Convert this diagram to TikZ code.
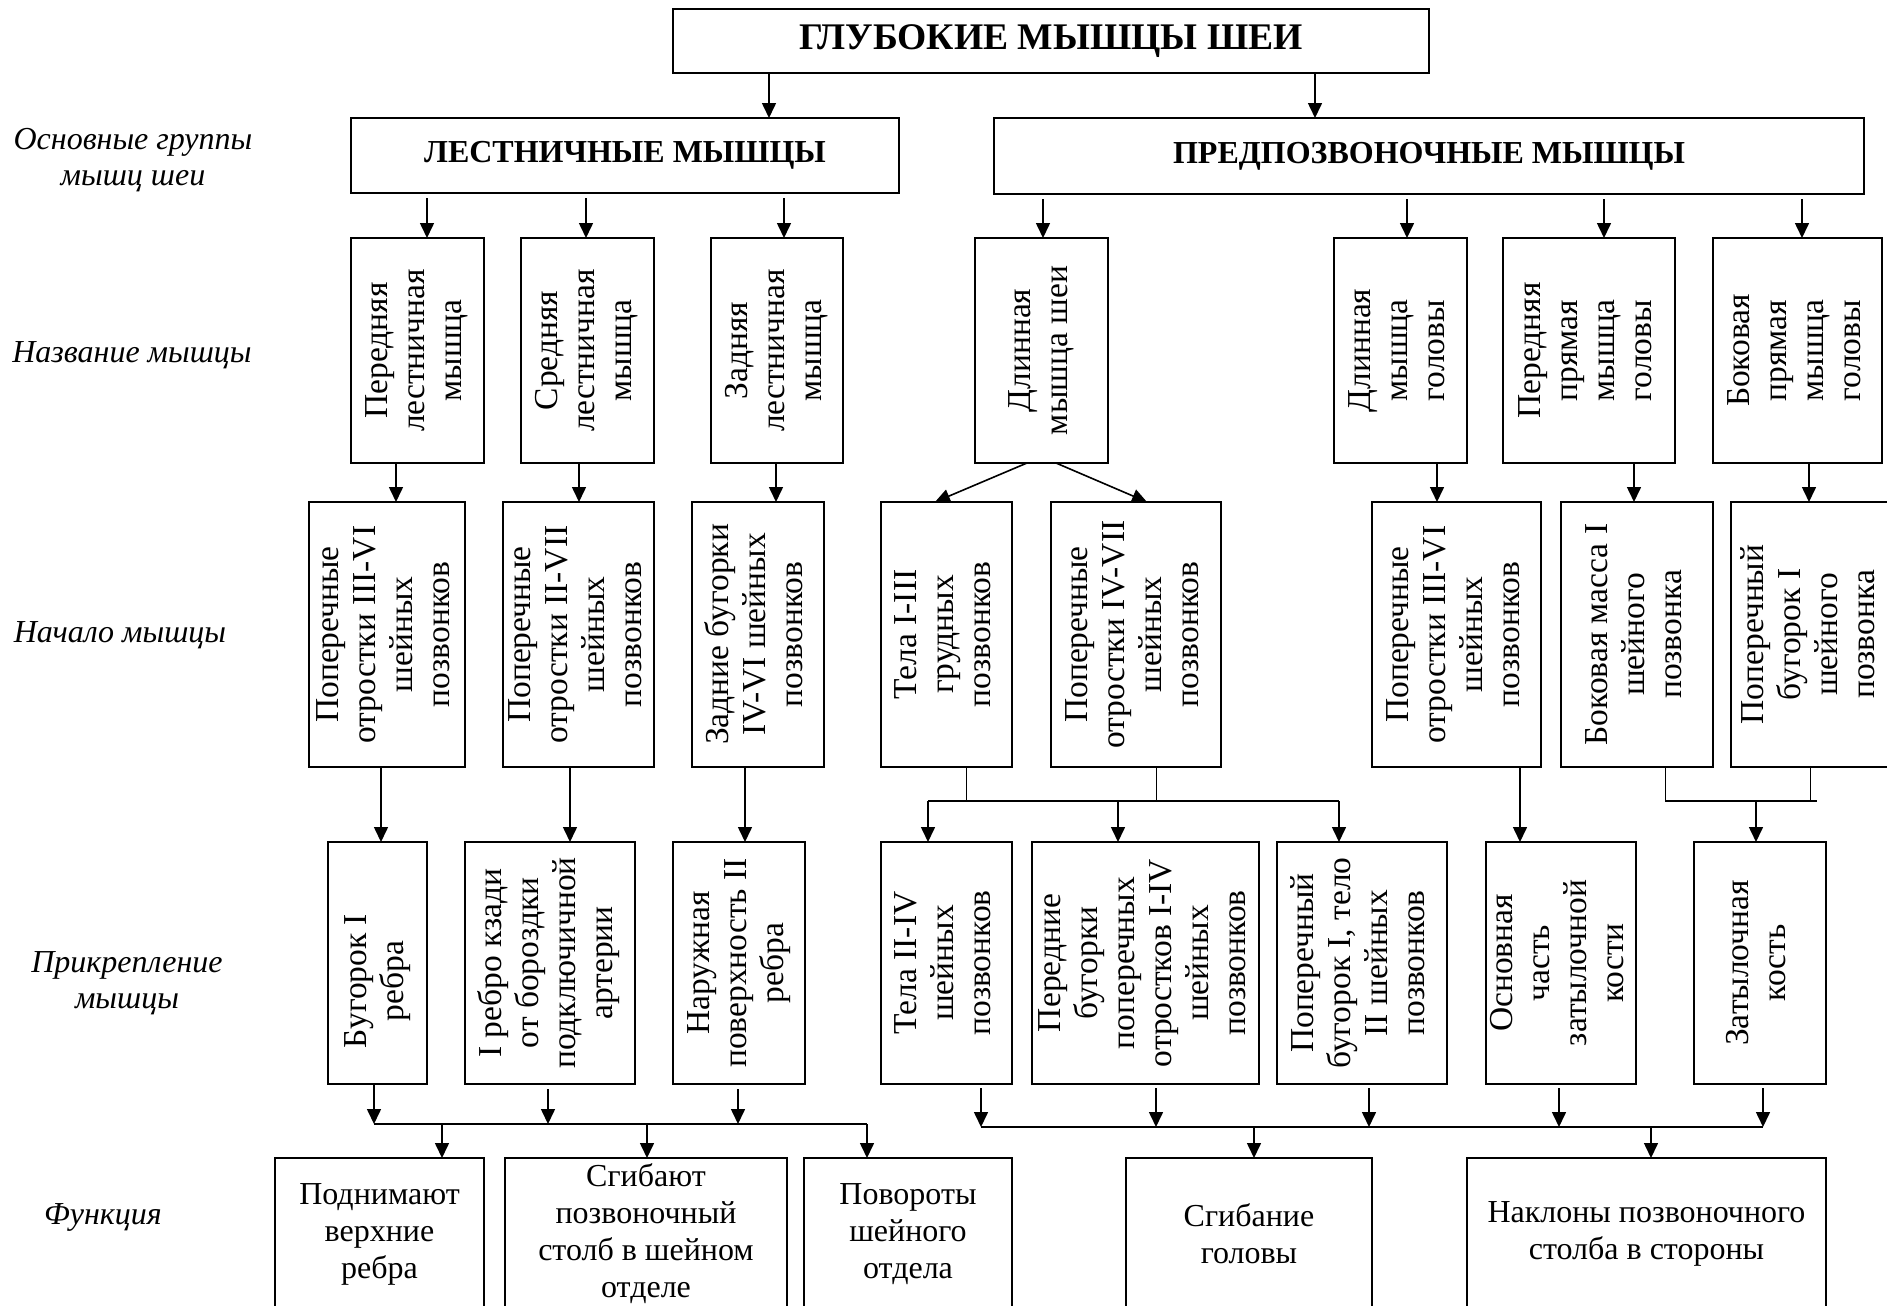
\documentclass[tikz,border=0pt]{standalone}
\usepackage{fontspec}
\setmainfont{Liberation Serif}
\usepackage{graphicx}
\usetikzlibrary{arrows.meta}

\newcommand\bodyfont{\fontsize{16.75pt}{18.5pt}\selectfont}
\newcommand\funcfont{\fontsize{16pt}{18.5pt}\selectfont}
\newcommand\titlefont{\fontsize{18.8pt}{20pt}\selectfont\bfseries}
\newcommand\groupfont{\fontsize{16pt}{18pt}\selectfont\bfseries}
\newcommand\sidefont{\fontsize{16pt}{18pt}\selectfont\itshape}
% vertical (bottom-to-top) centred text block; optional trailing gap
\newcommand\vt[2][0pt]{\rotatebox{90}{\begin{tabular}{@{}c@{\hspace{#1}}}#2\end{tabular}}}
% framed box given by its pixel corners: [style]{name}{x1}{y1}{x2}{y2}{text}
\newcommand\bx[7][]{\node[box,#1,minimum width={(#5-#3)*0.5pt},minimum height={(#6-#4)*0.5pt}] (#2) at ({(#3+#5)/2},{(#4+#6)/2}) {#7};}

\begin{document}
\begin{tikzpicture}[x=0.5pt,y=-0.5pt,
  box/.style={draw,line width=0.9pt,inner sep=0pt,outer sep=0pt,align=center,font=\bodyfont},
  func/.style={font=\funcfont},
  arr/.style={-{Triangle[length=7.5pt,width=7pt]},line width=0.8pt},
  wire/.style={line width=0.8pt},
  thinwire/.style={line width=0.5pt},
  side/.style={font=\sidefont,align=center,inner sep=0pt}]
\useasboundingbox (0,0) rectangle (1887,1306);
\clip (0,0) rectangle (1887,1306);

% row captions
\node[side] (sgroups) at (133,160) {Основные группы\\мышц шеи};
\node[side] (sname)   at (132,355) {Название мышцы};
\node[side] (sstart)  at (120,635) {Начало мышцы};
\node[side] (sattach) at (127,983) {Прикрепление\\мышцы};
\node[side] (sfunc)   at (103,1217) {Функция};

% top levels
\bx{title}{673}{9}{1429}{73}{\titlefont ГЛУБОКИЕ МЫШЦЫ ШЕИ}
\bx{scal}{351}{118}{899}{193}{\groupfont ЛЕСТНИЧНЫЕ МЫШЦЫ}
\bx{prev}{994}{118}{1864}{194}{\groupfont ПРЕДПОЗВОНОЧНЫЕ МЫШЦЫ}

% muscle names
\bx{n1}{351}{238}{484}{463}{\vt{Передняя\\лестничная\\мышца}}
\bx{n2}{521}{238}{654}{463}{\vt{Средняя\\лестничная\\мышца}}
\bx{n3}{711}{238}{843}{463}{\vt{Задняя\\лестничная\\мышца}}
\bx{n4}{975}{238}{1108}{463}{\vt{Длинная\\мышца шеи}}
\bx{n5}{1334}{238}{1467}{463}{\vt{Длинная\\мышца\\головы}}
\bx{n6}{1503}{238}{1675}{463}{\vt{Передняя\\прямая\\мышца\\головы}}
\bx{n7}{1713}{238}{1882}{463}{\vt{Боковая\\прямая\\мышца\\головы}}

% origins
\bx{o1}{309}{502}{465}{767}{\vt{Поперечные\\отростки III-VI\\шейных\\позвонков}}
\bx{o2}{503}{502}{654}{767}{\vt{Поперечные\\отростки II-VII\\шейных\\позвонков}}
\bx{o3}{692}{502}{824}{767}{\vt{Задние бугорки\\IV-VI шейных\\позвонков}}
\bx{o4}{881}{502}{1012}{767}{\vt{Тела I-III\\грудных\\позвонков}}
\bx{o5}{1051}{502}{1221}{767}{\vt{Поперечные\\отростки IV-VII\\шейных\\позвонков}}
\bx{o6}{1372}{502}{1541}{767}{\vt{Поперечные\\отростки III-VI\\шейных\\позвонков}}
\bx{o7}{1561}{502}{1713}{767}{\vt{Боковая масса I\\шейного\\позвонка}}
\bx{o8}{1731}{502}{1893}{767}{\vt{Поперечный\\бугорок I\\шейного\\позвонка}}

% attachments
\bx{a1}{328}{842}{427}{1084}{\vt[18pt]{Бугорок I\\ребра}}
\bx{a2}{465}{842}{635}{1084}{\vt{I ребро кзади\\от бороздки\\подключичной\\артерии}}
\bx{a3}{673}{842}{805}{1084}{\vt{Наружная\\поверхность II\\ребра}}
\bx{a4}{881}{842}{1012}{1084}{\vt{Тела II-IV\\шейных\\позвонков}}
\bx{a5}{1032}{842}{1259}{1084}{\vt{Передние\\бугорки\\поперечных\\отростков I-IV\\шейных\\позвонков}}
\bx{a6}{1277}{842}{1447}{1084}{\vt{Поперечный\\бугорок I, тело\\II шейных\\позвонков}}
\bx{a7}{1486}{842}{1636}{1084}{\vt{Основная\\часть\\затылочной\\кости}}
\bx{a8}{1694}{842}{1826}{1084}{\vt{Затылочная\\кость}}

% functions
\bx[func]{f1}{275}{1158}{484}{1310}{Поднимают\\верхние\\ребра}
\bx[func]{f2}{505}{1158}{787}{1310}{Сгибают\\позвоночный\\столб в шейном\\отделе}
\bx[func]{f3}{804}{1158}{1012}{1310}{Повороты\\шейного\\отдела}
\bx[func]{f4}{1126}{1158}{1372}{1310}{Сгибание\\головы}
\bx[func]{f5}{1467}{1158}{1826}{1310}{Наклоны позвоночного\\столба в стороны}

% title -> groups
\draw[arr] (769,0 |- title.south) -- (769,0 |- scal.north);
\draw[arr] (1315,0 |- title.south) -- (1315,0 |- prev.north);

% groups -> names
\foreach \x/\t in {427/n1,586/n2,784/n3}
  \draw[arr,shorten <=2.5pt] (\x,0 |- scal.south) -- (\x,0 |- \t.north);
\foreach \x/\t in {1043/n4,1407/n5,1604/n6,1802/n7}
  \draw[arr,shorten <=2.5pt] (\x,0 |- prev.south) -- (\x,0 |- \t.north);

% names -> origins
\foreach \x/\s/\t in {396/n1/o1,579/n2/o2,776/n3/o3,1437/n5/o6,1634/n6/o7,1809/n7/o8}
  \draw[arr] (\x,0 |- \s.south) -- (\x,0 |- \t.north);
\draw[arr] (1027,0 |- n4.south) -- (935,0 |- o4.north);
\draw[arr] (1056,0 |- n4.south) -- (1147,0 |- o5.north);

% origins -> attachments
\foreach \x/\s/\t in {381/o1/a1,570/o2/a2,745/o3/a3,1520/o6/a7}
  \draw[arr] (\x,0 |- \s.south) -- (\x,0 |- \t.north);

\coordinate (busA) at (928,801);
\coordinate (busB) at (1339,801);
\draw[thinwire] (966,0 |- o4.south) -- (966,0 |- busA);
\draw[thinwire] (1156,0 |- o5.south) -- (1156,0 |- busA);
\draw[wire] (busA) -- (busB);
\draw[arr] (busA) -- (928,0 |- a4.north);
\draw[arr] (1118,0 |- busA) -- (1118,0 |- a5.north);
\draw[arr] (busB) -- (1339,0 |- a6.north);

\coordinate (busC) at (1665,801);
\coordinate (busD) at (1817,801);
\draw[thinwire] (1665,0 |- o7.south) -- (busC);
\draw[thinwire] (1810,0 |- o8.south) -- (1810,0 |- busD);
\draw[wire] (busC) -- (busD);
\draw[arr] (1756,0 |- busC) -- (1756,0 |- a8.north);

% attachments -> functions (scalene group)
\coordinate (busE) at (374,1124);
\coordinate (busF) at (867,1124);
\draw[wire] (busE) -- (busF);
\draw[arr] (374,0 |- a1.south) -- (busE);
\draw[arr,shorten <=2.5pt] (548,0 |- a2.south) -- (548,0 |- busE);
\draw[arr,shorten <=2.5pt] (738,0 |- a3.south) -- (738,0 |- busE);
\draw[arr] (442,0 |- busE) -- (442,0 |- f1.north);
\draw[arr] (647,0 |- busE) -- (647,0 |- f2.north);
\draw[arr] (busF) -- (867,0 |- f3.north);

% attachments -> functions (prevertebral group)
\coordinate (busG) at (981,1127);
\coordinate (busH) at (1763,1127);
\draw[wire] (busG) -- (busH);
\foreach \x/\s in {981/a4,1156/a5,1369/a6,1559/a7,1763/a8}
  \draw[arr,shorten <=2pt] (\x,0 |- \s.south) -- (\x,0 |- busG);
\draw[arr] (1254,0 |- busG) -- (1254,0 |- f4.north);
\draw[arr] (1651,0 |- busG) -- (1651,0 |- f5.north);
\end{tikzpicture}
\end{document}
